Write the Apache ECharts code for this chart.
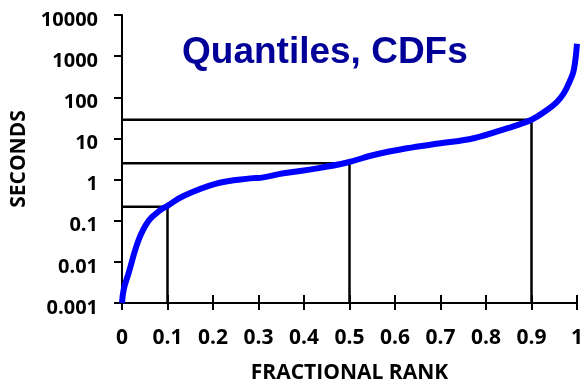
<!DOCTYPE html>
<html>
<head>
<meta charset="utf-8">
<script src="https://cdn.jsdelivr.net/npm/echarts@6/dist/echarts.min.js"></script>
<style>html,body{margin:0;padding:0;background:#fff}#c{width:583px;height:381px}</style>
</head>
<body>
<div id="c"></div>
<script>
var titleText = 'Quantiles, CDFs';
var xName = 'FRACTIONAL RANK';
var yName = 'SECONDS';
var xTickLabels = ['0','0.1','0.2','0.3','0.4','0.5','0.6','0.7','0.8','0.9','1'];
var yTickLabels = ['0.001','0.01','0.1','1','10','100','1000','10000'];
var curveX = [0, 0.004, 0.0145, 0.0365, 0.0585, 0.084, 0.1, 0.135, 0.209, 0.282, 0.304, 0.355, 0.429, 0.495, 0.553, 0.626, 0.7, 0.773, 0.846, 0.9, 0.934, 0.955, 0.971, 0.985, 0.993, 1.0];
var curveY = [0.001, 0.0022, 0.0053, 0.034, 0.1, 0.18, 0.23, 0.4, 0.81, 1.07, 1.1, 1.42, 1.87, 2.6, 3.95, 5.75, 7.6, 10.1, 17.6, 28.5, 49, 75, 125, 260, 460, 2000];
var quantX = [0.1, 0.5, 0.9];
var quantY = [0.22, 2.5, 28.5];

var curveData = curveX.map(function (x, i) { return [x, curveY[i]]; });
var quantSeries = quantX.map(function (qx, i) {
  return {
    type: 'line', xAxisIndex: 1, yAxisIndex: 0, symbol: 'none', silent: true,
    lineStyle: { color: '#000', width: 2.5 },
    data: [[0, quantY[i]], [qx, quantY[i]], [qx, 0.001]], z: 2
  };
});
var labelFont = { fontFamily: 'Open Sans', fontWeight: 'bold', fontSize: 20, color: '#000' };
var gridTop = 15, gridBottom = 78;
var chart = echarts.init(document.getElementById('c'), null, { renderer: 'canvas' });
chart.setOption({
  animation: false,
  title: {
    text: titleText, left: 177, top: 29,
    textStyle: { fontFamily: 'Liberation Sans', fontWeight: 'bold', fontSize: 37, color: '#000099' }
  },
  grid: { left: 122, right: 6, top: gridTop, bottom: gridBottom, containLabel: false, outerBoundsMode: 'none' },
  xAxis: [{
    type: 'value', min: 0, max: 1, interval: 0.1,
    name: xName, nameLocation: 'middle', nameGap: 60,
    nameTextStyle: { fontFamily: 'Open Sans', fontWeight: 'bold', fontSize: 21, color: '#000' },
    axisLine: { show: true, onZero: false, lineStyle: { color: '#000', width: 2 } },
    axisTick: { show: true, inside: false, length: 7, lineStyle: { color: '#000', width: 2 } },
    axisLabel: Object.assign({}, labelFont, { margin: 25, fontSize: 21, formatter: function (v) { return xTickLabels[Math.round(v * 10)]; } }),
    splitLine: { show: false }
  }, {
    type: 'value', min: 0, max: 1, interval: 0.1, position: 'bottom', offset: 0,
    axisLine: { show: true, onZero: false, lineStyle: { color: '#000', width: 2 } },
    axisTick: { show: true, inside: true, length: 8, lineStyle: { color: '#000', width: 2 } },
    axisLabel: { show: false }, splitLine: { show: false }
  }],
  yAxis: {
    type: 'log', logBase: 10, min: 0.001, max: 10000, interval: 1,
    name: yName, nameLocation: 'middle', nameGap: 89, nameRotate: 90,
    nameTextStyle: { fontFamily: 'Open Sans', fontWeight: 'bold', fontSize: 21, color: '#000' },
    axisLine: { show: true, lineStyle: { color: '#000', width: 2 } },
    axisTick: { show: true, inside: false, length: 8, lineStyle: { color: '#000', width: 2 } },
    axisLabel: Object.assign({}, labelFont, { margin: 24,
      formatter: function (v) { return '{v|' + yTickLabels[Math.round(Math.log10(v)) + 3] + '}'; },
      rich: { v: { fontFamily: 'Open Sans', fontWeight: 'bold', fontSize: 20, color: '#000', padding: [10, 0, 0, 0] } } }),
    splitLine: { show: false }
  },
  series: [{
    type: 'line', symbol: 'none', smooth: 0.4, silent: true,
    xAxisIndex: 0, yAxisIndex: 0,
    lineStyle: { color: '#0000ff', width: 6 },
    data: curveData, z: 3
  }].concat(quantSeries)
});
</script>
</body>
</html>
